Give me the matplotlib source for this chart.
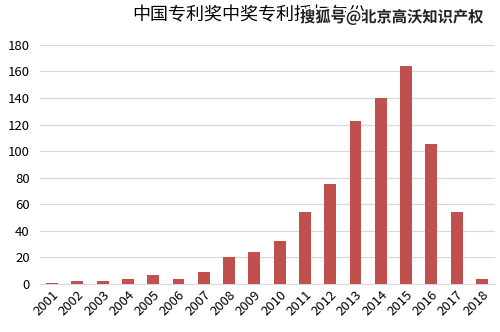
import matplotlib.pyplot as plt
import matplotlib.patheffects as pe

plt.rcParams['font.family'] = ['Noto Sans CJK SC', 'DejaVu Sans']

years = ['2001', '2002', '2003', '2004', '2005', '2006', '2007', '2008', '2009',
         '2010', '2011', '2012', '2013', '2014', '2015', '2016', '2017', '2018']
counts = [1, 2, 2, 4, 7, 4, 9, 20, 24, 32, 54, 75, 123, 140, 164, 105, 54, 4]

fig = plt.figure(figsize=(5, 3.32), dpi=100)
ax = fig.add_axes([0.079, 0.145, 0.91, 0.72])

x = range(len(years))
ax.bar(x, counts, width=0.47, color='#C0504D', zorder=3)

ax.set_xlim(-0.5, len(years) - 0.5)
ax.set_ylim(0, 180)
ax.set_yticks(range(0, 181, 20))
ax.yaxis.grid(True, color='#D9D9D9', linewidth=0.9, zorder=0)
ax.set_xticks(list(x))
ax.set_xticklabels(years, rotation=45, ha='right', rotation_mode='anchor')
ax.tick_params(axis='both', length=0, labelsize=9.5, colors='#000000')
ax.tick_params(axis='x', pad=3)
ax.tick_params(axis='y', pad=7)
for s in ['top', 'right', 'left']:
    ax.spines[s].set_visible(False)
ax.spines['bottom'].set_color('#D9D9D9')

fig.text(0.265, 0.955, '中国专利奖中奖专利授权年份', fontsize=13, va='center', ha='left')
fig.text(0.6, 0.948, '搜狐号@北京高沃知识产权', fontsize=11, va='center', ha='left',
         color='#222222', fontweight='bold',
         path_effects=[pe.withStroke(linewidth=2.5, foreground='white')])

fig.savefig('out.png', dpi=100)
